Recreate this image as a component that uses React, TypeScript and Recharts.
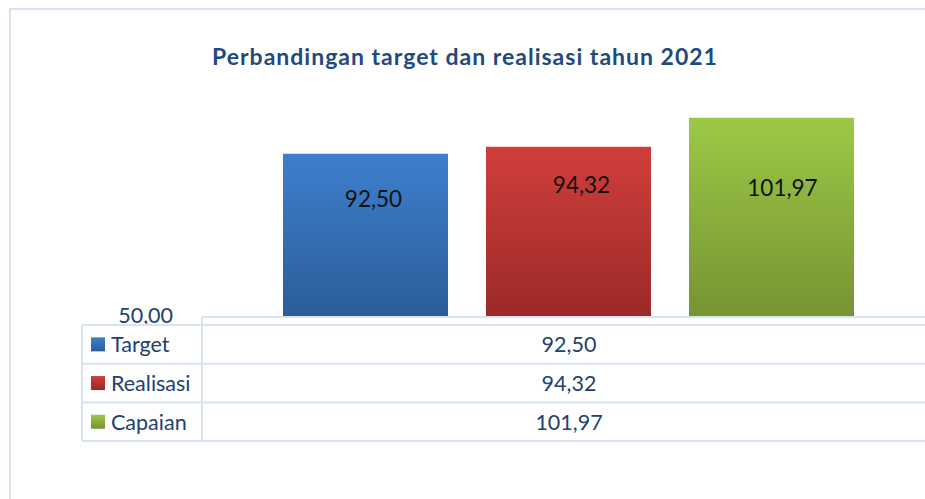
import { Bar, BarChart, LabelList, XAxis, YAxis } from "recharts";

const categories = ["2021"];
const seriesNames = ["Target", "Realisasi", "Capaian"];
const targetValues = [92.5];
const realisasiValues = [94.32];
const capaianValues = [101.97];
const yDomain = [50, 110];
const yTicks = [50];
const title = "Perbandingan target dan realisasi tahun 2021";

const data = categories.map((name, i) => ({
  name,
  Target: targetValues[i],
  Realisasi: realisasiValues[i],
  Capaian: capaianValues[i],
}));

const fmt = (v: number) => v.toFixed(2).replace(".", ",");

const FONT = "Lato, 'Open Sans', sans-serif";
const TEXT = "#22416F";
const GRID = "#D6E3F2";

// per series look, label nudges as in the original
const looks: Record<string, { top: string; bottom: string; dx: number; dy: number }> = {
  Target: { top: "#3D7FCD", bottom: "#2C5D99", dx: 8, dy: 45 },
  Realisasi: { top: "#D03E3B", bottom: "#9B2A28", dx: 13, dy: 38 },
  Capaian: { top: "#9CC846", bottom: "#769433", dx: 11, dy: 70 },
};

// table layout
const tableLeft = 82;
const colX = 202;
const tableTop = 325;
const rowH = 38.7;

function BarValue(props: any, dx: number, dy: number) {
  const { x, y, width, value } = props;
  return (
    <text
      x={x + width / 2 + dx}
      y={y + dy}
      textAnchor="middle"
      dominantBaseline="central"
      fontFamily={FONT}
      fontSize={22.5}
      fill="#111"
    >
      {fmt(value)}
    </text>
  );
}

export default function App() {
  const rows = seriesNames.map((s) => ({
    name: s,
    value: data[0][s as "Target"],
  }));
  return (
    <div
      style={{
        position: "absolute",
        left: 0,
        top: 0,
        width: 925,
        height: 499,
        overflow: "hidden",
        background: "#fff",
      }}
    >
      <div
        style={{
          position: "absolute",
          left: 9,
          top: 8,
          width: 2000,
          height: 2000,
          borderLeft: `2px solid ${GRID}`,
          borderTop: `2px solid ${GRID}`,
        }}
      />
      <div style={{ position: "absolute", left: 0, top: 0 }}>
        <BarChart
          width={940}
          height={499}
          data={data}
          margin={{ top: 87, right: 4, bottom: 183, left: 0 }}
          barCategoryGap={81}
          barGap={38}
        >
          <defs>
            {seriesNames.map((s) => (
              <linearGradient key={s} id={`g-${s}`} x1="0" y1="0" x2="0" y2="1">
                <stop offset="0%" stopColor={looks[s].top} />
                <stop offset="100%" stopColor={looks[s].bottom} />
              </linearGradient>
            ))}
          </defs>
          <XAxis dataKey="name" hide />
          <YAxis
            domain={yDomain}
            ticks={yTicks}
            width={202}
            axisLine={false}
            tickLine={false}
            tickSize={0}
            tickMargin={29}
            tickFormatter={fmt}
            tick={{ fill: TEXT, fontSize: 21.5, fontFamily: FONT, dy: -1 }}
          />
          {seriesNames.map((s) => (
            <Bar key={s} dataKey={s} fill={`url(#g-${s})`} isAnimationActive={false}>
              <LabelList
                dataKey={s}
                content={(p: any) => BarValue(p, looks[s].dx, looks[s].dy)}
              />
            </Bar>
          ))}
        </BarChart>
      </div>
      <svg
        width={925}
        height={499}
        style={{ position: "absolute", left: 0, top: 0, pointerEvents: "none" }}
      >
        <defs>
          {seriesNames.map((s) => (
            <linearGradient key={s} id={`k-${s}`} x1="0" y1="0" x2="0" y2="1">
              <stop offset="0%" stopColor={looks[s].top} />
              <stop offset="100%" stopColor={looks[s].bottom} />
            </linearGradient>
          ))}
        </defs>
        <text
          x={465}
          y={56}
          textAnchor="middle"
          dominantBaseline="central"
          fontFamily={FONT}
          fontWeight={700}
          fontSize={23}
          letterSpacing={1}
          fill="#1F4A7C"
        >
          {title}
        </text>
        {/* axis line + table grid */}
        <line x1={colX} x2={925} y1={317} y2={317} stroke={GRID} strokeWidth={2} />
        <line x1={tableLeft} x2={925} y1={tableTop} y2={tableTop} stroke={GRID} strokeWidth={2} />
        {rows.map((_, i) => (
          <line
            key={i}
            x1={tableLeft}
            x2={925}
            y1={tableTop + rowH * (i + 1)}
            y2={tableTop + rowH * (i + 1)}
            stroke={GRID}
            strokeWidth={2}
          />
        ))}
        <line x1={tableLeft} x2={tableLeft} y1={tableTop} y2={tableTop + rowH * rows.length} stroke={GRID} strokeWidth={2} />
        <line x1={colX} x2={colX} y1={317} y2={tableTop + rowH * rows.length} stroke={GRID} strokeWidth={2} />
        {rows.map((r, i) => {
          const cy = tableTop + rowH * i + rowH / 2;
          return (
            <g key={r.name}>
              <rect x={91} y={cy - 7} width={14} height={14} fill={`url(#k-${r.name})`} />
              <text
                x={111}
                y={cy}
                dominantBaseline="central"
                fontFamily={FONT}
                fontSize={21.5}
                fill={TEXT}
              >
                {r.name}
              </text>
              <text
                x={569}
                y={cy}
                textAnchor="middle"
                dominantBaseline="central"
                fontFamily={FONT}
                fontSize={21.5}
                fill={TEXT}
              >
                {fmt(r.value)}
              </text>
            </g>
          );
        })}
      </svg>
    </div>
  );
}
